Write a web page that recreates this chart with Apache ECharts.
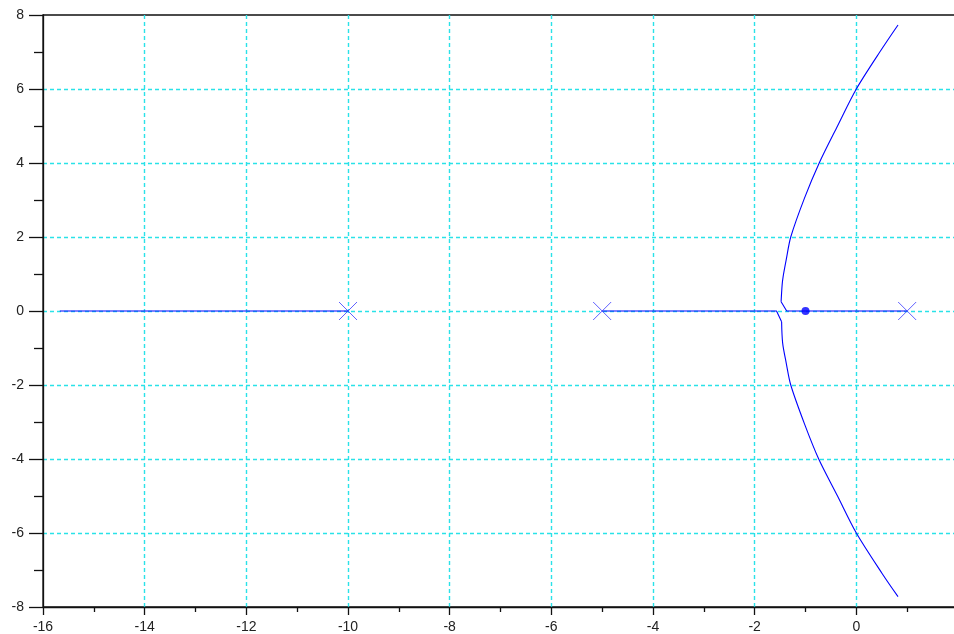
<!DOCTYPE html>
<html>
<head>
<meta charset="utf-8">
<script src="https://cdn.jsdelivr.net/npm/echarts@6/dist/echarts.min.js"></script>
<style>
    html, body { margin: 0; padding: 0; background: #fff; overflow: hidden; }
    /* a bit wider than the window: the plot's right edge sits just past it */
    #chart { width: 961px; height: 634px; }
</style>
</head>
<body>
<div id="chart"></div>
<script>
// root locus branches
var branchLeft = [[-15.67, 0], [-10, 0]]
// real-axis part + the small kink where the branches leave the axis
var kinkLower = [[-5, 0], [-1.57, 0], [-1.47, -0.29]]
var kinkUpper = [[1, 0], [-1.37, 0], [-1.48, 0.25]]
// complex branches
var curveLower = [[-1.47, -0.29], [-1.45, -0.86], [-1.38, -1.4], [-1.29, -2], [-1.02, -3.05],
    [-0.74, -4], [-0.37, -5], [0, -6], [0.51, -7.1], [0.82, -7.72]]
var curveUpper = [[-1.48, 0.25], [-1.46, 0.7], [-1.44, 0.93], [-1.38, 1.38], [-1.29, 2], [-1.02, 3.05],
    [-0.73, 4], [-0.37, 5], [0, 6], [0.51, 7.1], [0.82, 7.73]]
var poles = [[-10, 0], [-5, 0], [1, 0]]
var zeros = [[-1, 0]]

var xTicks = [-16, -14, -12, -10, -8, -6, -4, -2, 0]
var yTicks = [-8, -6, -4, -2, 0, 2, 4, 6, 8]

var blue = '#0000ff'
var gridColor = '#2ae2e8'

var chart = echarts.init(document.getElementById('chart'))

function lineSeries(data, smooth) {
    return {
        type: 'line',
        data: data,
        smooth: smooth ? 0.3 : false,
        showSymbol: false,
        symbol: 'none',
        lineStyle: { color: blue, width: 1.1 },
        z: 3
    }
}

// dashed grid, but not over the frame lines
var splitLine = {
    show: true,
    showMinLine: false,
    showMaxLine: false,
    lineStyle: { color: gridColor, type: [4, 3], width: 1.4 }
}

chart.setOption({
    animation: false,
    grid: { left: 43, top: 15, right: 0, bottom: 27, show: true, borderColor: '#111', borderWidth: 1.3 },
    xAxis: {
        type: 'value',
        min: -16,
        max: 2,
        interval: 2,
        axisLine: { show: true, onZero: false, lineStyle: { color: '#111', width: 1.3 } },
        axisTick: { show: true, inside: false, length: 8, lineStyle: { color: '#111', width: 1.3 } },
        minorTick: { show: true, splitNumber: 2, length: 5, lineStyle: { color: '#111', width: 1.3 } },
        minorSplitLine: { show: false },
        axisLabel: {
            margin: 13,
            fontFamily: 'Liberation Sans',
            fontSize: 14,
            color: '#222',
            formatter: function (v) { return xTicks.indexOf(v) >= 0 ? String(v) : '' }
        },
        splitLine: splitLine
    },
    yAxis: {
        type: 'value',
        min: -8,
        max: 8,
        interval: 2,
        axisLine: { show: true, onZero: false, lineStyle: { color: '#111', width: 1.3 } },
        axisTick: { show: true, inside: false, length: 14, lineStyle: { color: '#111', width: 1.3 } },
        minorTick: { show: true, splitNumber: 2, length: 9, lineStyle: { color: '#111', width: 1.3 } },
        minorSplitLine: { show: false },
        axisLabel: {
            margin: 19,
            fontFamily: 'Liberation Sans',
            fontSize: 14,
            color: '#222',
            formatter: function (v) { return yTicks.indexOf(v) >= 0 ? String(v) : '' }
        },
        splitLine: splitLine
    },
    series: [
        lineSeries(branchLeft),
        lineSeries(kinkLower),
        lineSeries(kinkUpper),
        lineSeries(curveLower, true),
        lineSeries(curveUpper, true),
        {
            type: 'scatter',
            data: poles,
            symbol: 'path://M0,0L10,10M10,0L0,10',
            symbolSize: 18,
            itemStyle: { color: 'none', borderColor: '#3a3aff', borderWidth: 1 },
            z: 4
        },
        {
            type: 'scatter',
            data: zeros,
            symbol: 'circle',
            symbolSize: 8,
            itemStyle: { color: blue },
            z: 4
        }
    ]
})
</script>
</body>
</html>
